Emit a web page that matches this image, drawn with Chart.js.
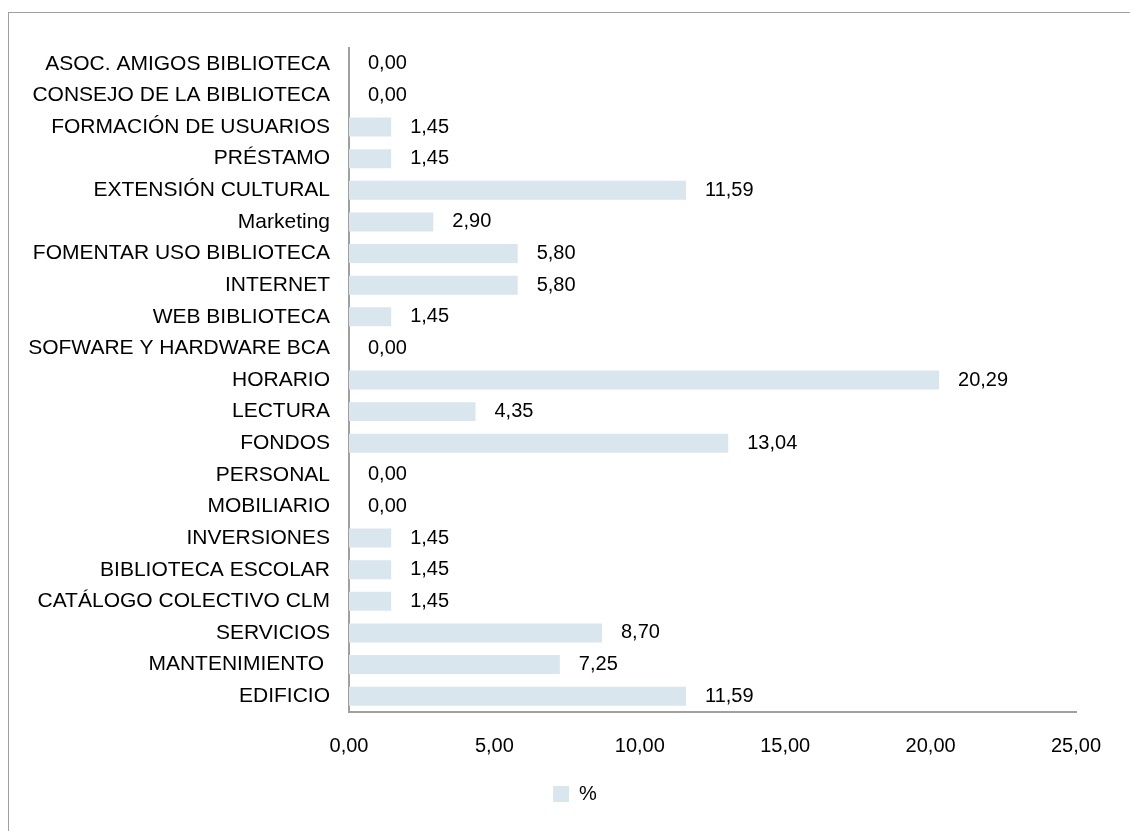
<!DOCTYPE html>
<html>
<head>
<meta charset="utf-8">
<script src="https://cdn.jsdelivr.net/npm/chart.js@4"></script>
<style>
  html, body { margin: 0; padding: 0; background: #ffffff; }
  #wrap { position: absolute; left: 0; top: 0; width: 1130px; height: 831px; }
  #frame { position: absolute; left: 8px; top: 12px; width: 1200px; height: 900px; border-left: 1.5px solid #a0a0a0; border-top: 1.5px solid #a0a0a0; }
</style>
</head>
<body>
<div id="frame"></div>
<div id="wrap"><canvas id="c"></canvas></div>
<script>
const categories = [
  "ASOC. AMIGOS BIBLIOTECA",
  "CONSEJO DE LA BIBLIOTECA",
  "FORMACIÓN DE USUARIOS",
  "PRÉSTAMO",
  "EXTENSIÓN CULTURAL",
  "Marketing",
  "FOMENTAR USO BIBLIOTECA",
  "INTERNET",
  "WEB BIBLIOTECA",
  "SOFWARE Y HARDWARE BCA",
  "HORARIO",
  "LECTURA",
  "FONDOS",
  "PERSONAL",
  "MOBILIARIO",
  "INVERSIONES",
  "BIBLIOTECA ESCOLAR",
  "CATÁLOGO COLECTIVO CLM",
  "SERVICIOS",
  "MANTENIMIENTO ",
  "EDIFICIO"
];
const percentValues = [0.00, 0.00, 1.45, 1.45, 11.59, 2.90, 5.80, 5.80, 1.45, 0.00, 20.29, 4.35, 13.04, 0.00, 0.00, 1.45, 1.45, 1.45, 8.70, 7.25, 11.59];
const seriesName = "%";
const xTicks = [0, 5, 10, 15, 20, 25];

const fmt = v => Number(v).toFixed(2).replace('.', ',');
const FONT = '"Liberation Sans", Arial, Helvetica, sans-serif';
const BAR = '#d9e6ee';

const valueLabels = {
  id: 'valueLabels',
  afterDatasetsDraw(chart) {
    const ctx = chart.ctx;
    const meta = chart.getDatasetMeta(0);
    const xs = chart.scales.x;
    ctx.save();
    ctx.font = '20px ' + FONT;
    ctx.fillStyle = '#000000';
    ctx.textAlign = 'left';
    ctx.textBaseline = 'middle';
    meta.data.forEach((bar, i) => {
      const v = chart.data.datasets[0].data[i];
      const x = xs.getPixelForValue(v) + 19;
      ctx.fillText(fmt(v), x, bar.y);
    });
    ctx.restore();
  }
};

const legendShift = {
  id: 'legendShift',
  afterLayout(chart) {
    if (chart.legend) {
      chart.legend.left += 37;
      chart.legend.right += 37;
    }
  }
};

new Chart(document.getElementById('c'), {
  type: 'bar',
  data: {
    labels: categories,
    datasets: [{
      label: seriesName,
      data: percentValues,
      backgroundColor: BAR,
      borderWidth: 0,
      barPercentage: 0.6,
      categoryPercentage: 1.0
    }]
  },
  options: {
    indexAxis: 'y',
    responsive: true,
    maintainAspectRatio: false,
    animation: false,
    devicePixelRatio: 1,
    layout: { padding: { top: 48, right: 54, left: 0, bottom: 17 } },
    plugins: {
      tooltip: { enabled: false },
      legend: {
        position: 'bottom',
        labels: {
          font: { family: FONT, size: 20 },
          color: '#000000',
          boxWidth: 16,
          boxHeight: 16,
          padding: 10
        }
      }
    },
    scales: {
      x: {
        min: 0,
        max: 25,
        afterBuildTicks(scale) { scale.ticks = xTicks.map(v => ({ value: v })); },
        afterFit(scale) { scale.height = 62; },
        grid: { display: false, drawTicks: false },
        border: { display: true, color: '#a0a0a0', width: 2 },
        ticks: {
          padding: 22,
          font: { family: FONT, size: 20 },
          color: '#000000',
          callback: v => fmt(v)
        }
      },
      y: {
        afterFit(scale) { scale.width = 349; },
        grid: { display: false, drawTicks: false },
        border: { display: true, color: '#a0a0a0', width: 2 },
        ticks: {
          padding: 19,
          font: { family: FONT, size: 21 },
          color: '#000000',
          autoSkip: false
        }
      }
    }
  },
  plugins: [valueLabels, legendShift]
});
</script>
</body>
</html>
